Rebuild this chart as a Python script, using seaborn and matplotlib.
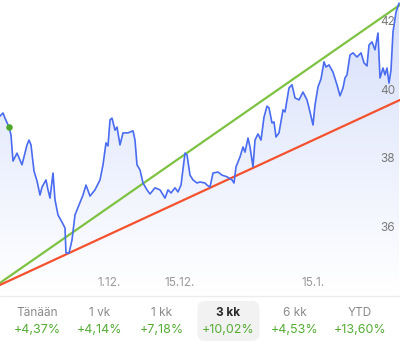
import numpy as np
import pandas as pd
import matplotlib
matplotlib.use("Agg")
import matplotlib.pyplot as plt
import matplotlib.transforms as mtransforms
from matplotlib.patches import FancyBboxPatch
import seaborn as sns

# ---------------- data ----------------
sessions = [0, 0.375, 0.625, 1.125, 1.375, 1.625, 2.125, 2.75, 3.375, 3.625, 3.875,
            4.25, 4.625, 5.0, 5.25, 5.75, 6.0, 6.25, 6.625, 6.875, 7.25, 7.75, 8.125,
            8.25, 8.625, 9.0, 9.375, 9.875, 10.375, 10.75, 11.25, 11.875, 12.5, 12.875,
            13.25, 13.5, 13.75, 14.0, 14.375, 14.625, 15.0, 15.375, 16.0, 16.625, 16.875,
            17.125, 17.5, 17.875, 18.375, 18.75, 19.375, 20.0, 20.625, 21.0, 21.375,
            21.875, 22.25, 22.625, 23.125, 23.375, 23.75, 24.125, 24.625, 25.0, 25.625,
            25.875, 26.25, 26.625, 27.25, 27.75, 28.375, 29.0, 29.25, 29.5, 30.0, 30.375,
            30.625, 31.0, 31.25, 31.625, 31.875, 32.25, 32.625, 33.0, 33.375, 33.625,
            34.0, 34.25, 34.5, 34.875, 35.375, 35.625, 36.125, 36.5, 36.875, 37.375,
            37.875, 38.375, 38.75, 39.125, 39.375, 39.75, 40.125, 40.5, 40.75, 41.125,
            41.625, 42.125, 42.5, 42.875, 43.125, 43.375, 43.75, 44.125, 44.625, 45.125,
            45.5, 45.875, 46.125, 46.5, 46.875, 47.25, 47.5, 47.875, 48.125, 48.375,
            48.625, 48.875, 49.125, 49.5, 49.875]
prices = [39.26, 39.35, 39.20, 38.94, 38.71, 37.95, 38.18, 37.84, 38.42, 38.56, 38.42,
          37.66, 37.37, 36.96, 37.19, 37.40, 37.11, 36.87, 37.60, 36.82, 36.38, 36.17, 36.00,
          35.27, 35.27, 35.65, 36.38, 36.67, 36.96, 37.25, 36.93, 37.11, 37.40, 37.84,
          38.48, 38.39, 39.15, 39.20, 38.85, 38.94, 38.42, 38.77, 38.77, 38.83, 38.56,
          37.84, 37.69, 37.31, 37.11, 36.99, 37.17, 37.11, 36.87, 37.11, 37.02,
          37.17, 37.05, 37.25, 38.18, 38.13, 37.54, 37.40, 37.31, 37.34, 37.31,
          37.25, 37.19, 37.60, 37.63, 37.54, 37.49, 37.40, 37.31, 37.78, 38.07, 38.36,
          38.21, 38.62, 38.36, 37.78, 38.56, 38.74, 38.56, 39.23, 39.55, 39.50,
          39.06, 39.09, 38.65, 38.77, 39.44, 39.38, 40.08, 40.17, 39.79, 39.73,
          39.96, 39.73, 39.38, 39.00, 39.58, 40.11, 40.34, 40.84, 40.69, 40.75,
          40.54, 40.17, 39.85, 40.08, 40.37, 40.46, 41.04, 41.10, 40.98, 41.10,
          40.81, 40.72, 41.33, 41.42, 41.19, 41.68, 40.37, 40.66, 40.46, 40.66,
          40.22, 40.60, 41.71, 42.29, 42.55]
ref_session = [1.125]
ref_price = [38.94]
support_x = [0, 50]
support_y = [34.34, 39.73]
resistance_x = [0, 50]
resistance_y = [34.40, 42.50]
y_ticks = [36, 38, 40, 42]
x_tick_pos = [13.6, 22.5, 39.1]
x_tick_labels = ["1.12.", "15.12.", "15.1."]
periods = ["Tänään", "1 vk", "1 kk", "3 kk", "6 kk", "YTD"]
changes = ["+4,37%", "+4,14%", "+7,18%", "+10,02%", "+4,53%", "+13,60%"]
selected = "3 kk"

# ---------------- style ----------------
sns.set_theme(style="white")
plt.rcParams['font.family'] = ['Inter', 'DejaVu Sans']

W, H = 400, 353
fig = plt.figure(figsize=(W / 100, H / 100), dpi=100)
fig.patch.set_facecolor("white")

chart_h = 292
ax = fig.add_axes([0, 1 - chart_h / H, 1, chart_h / H])
ax.set_xlim(0, 50)
ytop = 42.641
ybot = ytop - chart_h * 0.02913
ax.set_ylim(ybot, ytop)
ax.axis("off")

df = pd.DataFrame({"session": sessions, "price": prices})

# gradient fill under the price line
poly = ax.fill_between(df["session"], df["price"], ybot, color="none", lw=0)
grad = np.zeros((256, 1, 4))
t = np.linspace(0, 1, 256)[:, None]  # 0 top -> 1 bottom
top_c = np.array([0.84, 0.875, 0.985])
bot_c = np.array([1.0, 1.0, 1.0])
col = top_c * (1 - t) + bot_c * t
grad[:, 0, :3] = col
grad[:, 0, 3] = 1.0
img = ax.imshow(grad, extent=[0, 50, ybot, ytop], aspect="auto", origin="upper", zorder=1)
path = poly.get_paths()[0]
img.set_clip_path(path, transform=ax.transData)

sns.lineplot(x=resistance_x, y=resistance_y, ax=ax, color="#7dc243", lw=1.6, zorder=2)
sns.lineplot(x=support_x, y=support_y, ax=ax, color="#f4522e", lw=1.6, zorder=2)
sns.lineplot(data=df, x="session", y="price", ax=ax, color="#4a6cf0", lw=1.2,
             sort=False, estimator=None, zorder=3)
ax.scatter(ref_session, ref_price, s=22, color="#4ca82a", zorder=4, linewidths=0)

# y labels (inside right)
ytr = mtransforms.blended_transform_factory(ax.transAxes, ax.transData)
for v in y_ticks:
    ax.text(0.988, v, f"{v}", transform=ytr, ha="right", va="center",
            fontsize=8.5, color="#7a7a7a", zorder=5)

# x labels (inside bottom)
xtr = ax.get_xaxis_transform()
for p, lab in zip(x_tick_pos, x_tick_labels):
    ax.text(p, 1 - 283 / chart_h, lab, transform=xtr, ha="center", va="center",
            fontsize=8.5, color="#9a9a9a", zorder=5)

# separator
fig.add_artist(plt.Line2D([0, 1], [1 - 295.5 / H] * 2, color="#ececec", lw=1))

# period selector
centers = [37, 100, 162, 228.5, 295, 360]
for c, per, ch in zip(centers, periods, changes):
    if per == selected:
        box = FancyBboxPatch(((c - 31) / W, 1 - 341 / H), 62 / W, 40 / H,
                             boxstyle="round,pad=0,rounding_size=0.02",
                             transform=fig.transFigure, facecolor="#f2f2f2",
                             edgecolor="none", zorder=0)
        fig.add_artist(box)
        fig.text(c / W, 1 - 313 / H, per, ha="center", va="center", fontsize=8.5,
                 color="#2b2b2b", fontweight="bold")
    else:
        fig.text(c / W, 1 - 313 / H, per, ha="center", va="center", fontsize=8.5,
                 color="#8a8a8a")
    fig.text(c / W, 1 - 330 / H, ch, ha="center", va="center", fontsize=9,
             color="#55ad35")

fig.savefig("out.png", dpi=100, facecolor="white")
